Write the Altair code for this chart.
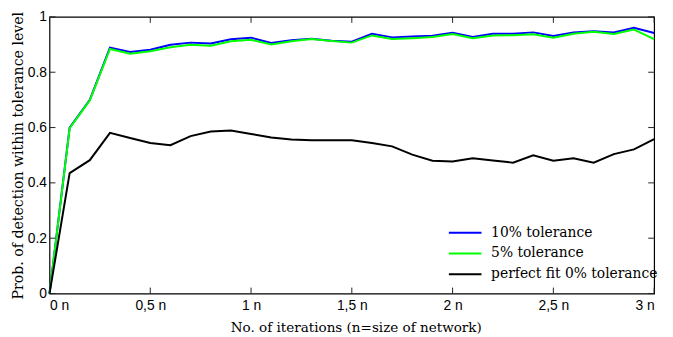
import altair as alt
import pandas as pd

iterations = [0.0, 0.1, 0.2, 0.3, 0.4, 0.5, 0.6, 0.7, 0.8, 0.9, 1.0,
              1.1, 1.2, 1.3, 1.4, 1.5, 1.6, 1.7, 1.8, 1.9, 2.0,
              2.1, 2.2, 2.3, 2.4, 2.5, 2.6, 2.7, 2.8, 2.9, 3.0]
tol10 = [0.0, 0.600, 0.700, 0.889, 0.873, 0.881, 0.899, 0.907, 0.904, 0.919, 0.925,
         0.906, 0.916, 0.921, 0.914, 0.910, 0.939, 0.926, 0.929, 0.932, 0.943,
         0.927, 0.939, 0.939, 0.944, 0.931, 0.944, 0.948, 0.944, 0.961, 0.942]
tol5 = [0.0, 0.598, 0.698, 0.884, 0.867, 0.876, 0.890, 0.899, 0.896, 0.912, 0.917,
        0.900, 0.912, 0.920, 0.913, 0.907, 0.933, 0.920, 0.923, 0.927, 0.938,
        0.923, 0.933, 0.934, 0.937, 0.925, 0.939, 0.946, 0.938, 0.954, 0.920]
tol0 = [0.0, 0.435, 0.482, 0.581, 0.562, 0.544, 0.536, 0.569, 0.586, 0.589, 0.577,
        0.564, 0.557, 0.554, 0.554, 0.554, 0.544, 0.532, 0.502, 0.480, 0.477,
        0.489, 0.481, 0.473, 0.500, 0.480, 0.489, 0.473, 0.504, 0.521, 0.558]

series_names = ["10% tolerance", "5% tolerance", "perfect fit 0% tolerance"]
series_colors = ["#0000ff", "#00ff00", "#000000"]

x_ticks = [0, 0.5, 1, 1.5, 2, 2.5, 3]
y_ticks = [0, 0.2, 0.4, 0.6, 0.8, 1]

rows = []
for name, vals in zip(series_names, [tol10, tol5, tol0]):
    for it, v in zip(iterations, vals):
        rows.append({"iter": it, "prob": v, "series": name})
df = pd.DataFrame(rows)

W, H = 612, 280
TITLE_FONT = "DejaVu Serif, serif"
LABEL_FONT = "Liberation Sans, sans-serif"

xscale = alt.Scale(domain=[0, 3], nice=False, zero=False)
yscale = alt.Scale(domain=[0, 1], nice=False)

xaxis = alt.Axis(values=x_ticks, title="No. of iterations (n=size of network)",
                 labelExpr="replace(toString(datum.value), '.', ',') + ' n'",
                 ticks=False, domain=False, grid=False, labelPadding=5,
                 titlePadding=8, titleX=310, titleFontSize=13.7)
yaxis = alt.Axis(values=y_ticks, title="Prob. of detection within tolerance level",
                 labelExpr="toString(datum.value)",
                 ticks=False, domain=False, grid=False, labelPadding=3,
                 titleX=-24, titleFontSize=14.3)

lines = alt.Chart(df).mark_line(strokeWidth=2).encode(
    x=alt.X("iter:Q", scale=xscale, axis=xaxis),
    y=alt.Y("prob:Q", scale=yscale, axis=yaxis),
    color=alt.Color("series:N",
                    scale=alt.Scale(domain=series_names, range=series_colors),
                    sort=series_names,
                    legend=alt.Legend(title=None, orient="none", legendX=403, legendY=209,
                                      symbolType="M-1,0H3", symbolSize=272,
                                      symbolStrokeWidth=2, labelOffset=25,
                                      rowPadding=4, labelFont=TITLE_FONT,
                                      labelFontSize=14, labelColor="black",
                                      labelLimit=300, padding=0)),
)

xt = pd.DataFrame({"t": x_ticks})
yt = pd.DataFrame({"t": y_ticks})

tick_style = dict(color="#222222", strokeWidth=1)
bottom_ticks = alt.Chart(xt).mark_rule(**tick_style).encode(
    x=alt.X("t:Q", scale=xscale, axis=xaxis), y=alt.value(H), y2=alt.value(H - 6))
top_ticks = alt.Chart(xt).mark_rule(**tick_style).encode(
    x=alt.X("t:Q", scale=xscale, axis=xaxis), y=alt.value(0), y2=alt.value(6))
left_ticks = alt.Chart(yt).mark_rule(**tick_style).encode(
    y=alt.Y("t:Q", scale=yscale, axis=yaxis), x=alt.value(0), x2=alt.value(6))
right_ticks = alt.Chart(yt).mark_rule(**tick_style).encode(
    y=alt.Y("t:Q", scale=yscale, axis=yaxis), x=alt.value(W), x2=alt.value(W - 6))

chart = alt.layer(lines, bottom_ticks, top_ticks, left_ticks, right_ticks).properties(
    width=W, height=H,
    autosize=alt.AutoSizeParams(type="none"),
    padding={"left": 42, "top": 7, "right": 11, "bottom": 42},
    background="white",
).configure_view(
    stroke="black", strokeWidth=1.2
).configure_axis(
    labelFont=LABEL_FONT, labelFontSize=14, labelColor="black",
    titleFont=TITLE_FONT, titleFontWeight="normal", titleColor="black",
)

chart.save("out.html", embed_options={"renderer": "svg", "actions": False})
